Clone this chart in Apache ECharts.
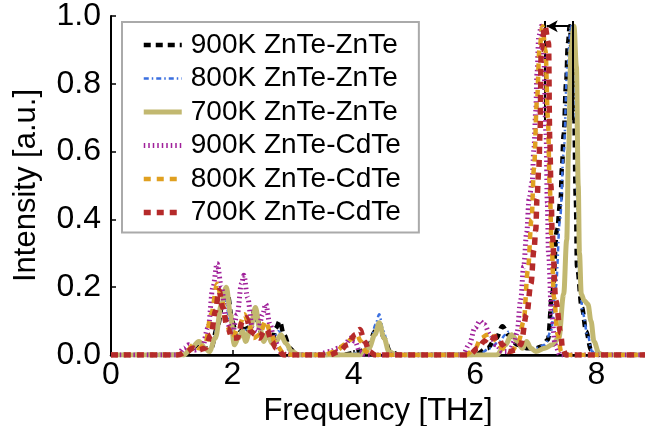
<!DOCTYPE html>
<html><head><meta charset="utf-8">
<script src="https://cdn.jsdelivr.net/npm/echarts@6/dist/echarts.min.js"></script>
<style>html,body{margin:0;padding:0;background:#fff}#c{width:645px;height:426px}</style>
</head><body><div id="c"></div>
<script>
const seriesNames = ['900K ZnTe-ZnTe','800K ZnTe-ZnTe','700K ZnTe-ZnTe','900K ZnTe-CdTe','800K ZnTe-CdTe','700K ZnTe-CdTe'];
const xTicks = [0,2,4,6,8];
const yTicks = [0,0.2,0.4,0.6,0.8,1.0];
const shiftLines = [7.15, 7.61];

const zz900 = [[0,0],[1.2,0],[1.35,0.02],[1.45,0.035],[1.55,0.02],[1.65,0.02],[1.75,0.08],[1.85,0.16],[1.92,0.18],[2.0,0.1],[2.07,0.05],[2.14,0.07],[2.2,0.09],[2.28,0.07],[2.36,0.13],[2.42,0.1],[2.5,0.05],[2.58,0.06],[2.65,0.04],[2.72,0.08],[2.78,0.1],[2.85,0.06],[2.95,0.02],[3.05,0],[3.8,0],[4.1,0.01],[4.25,0.03],[4.35,0.07],[4.42,0.09],[4.5,0.05],[4.6,0.01],[4.75,0],[6.0,0],[6.2,0.02],[6.35,0.05],[6.45,0.085],[6.55,0.06],[6.62,0.04],[6.7,0.03],[6.85,0.02],[7.0,0.02],[7.1,0.025],[7.2,0.045],[7.27,0.18],[7.35,0.37],[7.41,0.46],[7.43,0.55],[7.46,0.65],[7.5,0.8],[7.53,0.92],[7.56,0.97],[7.6,0.88],[7.63,0.75],[7.66,0.46],[7.68,0.26],[7.76,0.14],[7.83,0.07],[7.91,0.015],[8.0,0],[8.8,0]];
const zz800 = [[0,0],[1.2,0],[1.35,0.02],[1.45,0.04],[1.55,0.02],[1.65,0.02],[1.75,0.08],[1.83,0.15],[1.88,0.17],[1.96,0.1],[2.05,0.05],[2.14,0.07],[2.2,0.08],[2.28,0.06],[2.36,0.12],[2.42,0.09],[2.5,0.05],[2.58,0.06],[2.65,0.04],[2.72,0.06],[2.76,0.07],[2.85,0.04],[2.95,0.01],[3.05,0],[3.9,0],[4.15,0.01],[4.28,0.04],[4.36,0.09],[4.42,0.12],[4.49,0.07],[4.58,0.01],[4.7,0],[6.05,0],[6.25,0.02],[6.4,0.04],[6.5,0.06],[6.56,0.07],[6.63,0.05],[6.72,0.03],[6.85,0.02],[7.0,0.02],[7.15,0.03],[7.25,0.07],[7.33,0.2],[7.4,0.4],[7.46,0.6],[7.52,0.85],[7.58,0.97],[7.62,0.9],[7.66,0.7],[7.69,0.4],[7.72,0.22],[7.78,0.12],[7.85,0.06],[7.93,0.01],[8.0,0],[8.8,0]];
const zz700 = [[0,0],[1.2,0],[1.3,0.015],[1.45,0.04],[1.55,0.02],[1.62,0.01],[1.72,0.05],[1.82,0.15],[1.9,0.2],[1.97,0.12],[2.03,0.03],[2.1,0.05],[2.17,0.07],[2.22,0.04],[2.3,0.08],[2.38,0.14],[2.45,0.08],[2.52,0.04],[2.58,0.065],[2.65,0.035],[2.72,0.04],[2.8,0.06],[2.88,0.035],[2.98,0.01],[3.1,0],[4.1,0],[4.25,0.02],[4.35,0.06],[4.42,0.095],[4.5,0.05],[4.58,0.01],[4.7,0],[6.35,0],[6.5,0.03],[6.6,0.06],[6.7,0.04],[6.78,0.02],[6.85,0.04],[6.92,0.02],[7.0,0.01],[7.15,0.02],[7.27,0.03],[7.38,0.05],[7.46,0.18],[7.51,0.34],[7.54,0.6],[7.58,0.9],[7.63,0.97],[7.67,0.85],[7.7,0.5],[7.72,0.3],[7.75,0.18],[7.8,0.16],[7.86,0.15],[7.91,0.1],[7.96,0.04],[8.04,0.005],[8.1,0],[8.8,0]];
const zc900 = [[0,0],[1.1,0],[1.2,0.02],[1.28,0.03],[1.38,0.015],[1.5,0.02],[1.6,0.08],[1.68,0.2],[1.75,0.27],[1.82,0.2],[1.9,0.1],[2.0,0.065],[2.08,0.12],[2.15,0.21],[2.19,0.235],[2.25,0.17],[2.33,0.08],[2.42,0.07],[2.5,0.12],[2.55,0.15],[2.62,0.09],[2.7,0.04],[2.8,0.01],[2.9,0],[3.4,0],[3.6,0.01],[3.75,0.02],[3.85,0.03],[3.95,0.05],[4.02,0.04],[4.1,0.01],[4.2,0],[5.8,0],[5.9,0.03],[6.0,0.08],[6.08,0.1],[6.15,0.09],[6.25,0.06],[6.35,0.03],[6.45,0.01],[6.56,0.01],[6.65,0.04],[6.69,0.065],[6.75,0.16],[6.8,0.26],[6.85,0.36],[6.89,0.46],[6.94,0.51],[6.97,0.61],[7.0,0.72],[7.02,0.83],[7.05,0.94],[7.09,0.97],[7.13,0.88],[7.17,0.65],[7.19,0.45],[7.21,0.3],[7.26,0.12],[7.32,0.03],[7.4,0],[8.8,0]];
const zc800 = [[0,0],[1.1,0],[1.25,0.01],[1.35,0.03],[1.45,0.02],[1.55,0.03],[1.65,0.12],[1.75,0.21],[1.82,0.17],[1.9,0.09],[2.0,0.05],[2.1,0.08],[2.2,0.12],[2.27,0.09],[2.35,0.05],[2.45,0.06],[2.55,0.1],[2.62,0.07],[2.72,0.03],[2.85,0.005],[3.0,0],[3.5,0],[3.7,0.01],[3.85,0.03],[3.95,0.045],[4.05,0.06],[4.12,0.04],[4.2,0.01],[4.3,0],[5.85,0],[6.0,0.02],[6.1,0.05],[6.2,0.06],[6.28,0.065],[6.35,0.04],[6.45,0.02],[6.6,0.01],[6.72,0.04],[6.8,0.1],[6.87,0.25],[6.93,0.4],[6.97,0.55],[7.02,0.75],[7.06,0.9],[7.11,0.97],[7.16,0.9],[7.2,0.7],[7.23,0.5],[7.26,0.33],[7.3,0.17],[7.36,0.06],[7.42,0.01],[7.5,0],[8.8,0]];
const zc700 = [[0,0],[1.1,0],[1.25,0.01],[1.35,0.02],[1.45,0.015],[1.55,0.02],[1.65,0.06],[1.72,0.13],[1.78,0.19],[1.84,0.14],[1.92,0.08],[2.0,0.05],[2.08,0.05],[2.17,0.1],[2.23,0.11],[2.3,0.07],[2.38,0.06],[2.45,0.05],[2.52,0.07],[2.57,0.075],[2.65,0.04],[2.72,0.02],[2.85,0],[3.6,0],[3.75,0.01],[3.9,0.03],[4.02,0.06],[4.1,0.075],[4.18,0.04],[4.26,0.01],[4.35,0],[5.9,0],[6.05,0.02],[6.15,0.04],[6.23,0.055],[6.3,0.05],[6.38,0.055],[6.45,0.03],[6.55,0.01],[6.68,0.015],[6.75,0.03],[6.85,0.12],[6.92,0.21],[6.97,0.31],[7.0,0.37],[7.02,0.46],[7.05,0.55],[7.07,0.65],[7.09,0.9],[7.15,0.97],[7.21,0.92],[7.23,0.64],[7.25,0.5],[7.27,0.36],[7.33,0.16],[7.41,0.065],[7.44,0.02],[7.5,0],[8.8,0]];

const seriesData = [zz900, zz800, zz700, zc900, zc800, zc700];
const colors = ['#000000','#3a6fe0','#c2b870','#a0209a','#e0a020','#b52a2a'];
const widths = [4.5, 2.5, 5, 5, 4.5, 5.5];
const dashes = [[7,5],[5,3,1.5,3],'solid',[1.5,3],[7,6],[7,6]];

const FONT = '"Liberation Sans", Arial, sans-serif';
const chart = echarts.init(document.getElementById('c'), null, {renderer:'canvas'});

const series = seriesNames.map((n,i)=>({
  name:n, type:'line', data:seriesData[i], showSymbol:false, symbol:'none',
  smooth:0.35, smoothMonotone:'x',
  lineStyle:{color:colors[i], width:widths[i], type:dashes[i], cap:'butt'},
  itemStyle:{color:colors[i]}, z:2+i, animation:false
}));
series[5].markLine = {
  silent:true, animation:false, symbol:['none','none'], label:{show:false},
  lineStyle:{color:'#000', width:2, type:'solid'},
  data:[
    [{coord:[shiftLines[0],0.693]},{coord:[shiftLines[0],0.985]}],
    [{coord:[shiftLines[1],0.693]},{coord:[shiftLines[1],0.985]}],
    [{coord:[shiftLines[1]-0.05,0.97],symbol:'none'},{coord:[shiftLines[0]+0.03,0.97],symbol:'arrow',symbolSize:[9,11]}]
  ]
};

chart.setOption({
  animation:false,
  backgroundColor:'#fff',
  textStyle:{fontFamily:FONT},
  grid:{left:111, right:0, top:16, bottom:71, outerBoundsMode:'none', containLabel:false},
  legend:{
    data:seriesNames, orient:'vertical', left:122, top:22,
    padding:[9,18,6,19], itemGap:5.5, itemWidth:38, itemHeight:14,
    backgroundColor:'#fff', borderColor:'#aaaaaa', borderWidth:2,
    itemStyle:{color:'rgba(0,0,0,0)', borderColor:'rgba(0,0,0,0)', borderWidth:0, opacity:0},
    lineStyle:{width:'inherit', type:'inherit', color:'inherit'},
    textStyle:{fontSize:28, color:'#000', fontFamily:FONT, lineHeight:28, padding:[0,0,0,4]}
  },
  xAxis:[{
    type:'value', min:0, max:8.8, interval:2,
    name:'Frequency [THz]', nameLocation:'middle', nameGap:32,
    nameTextStyle:{fontSize:31, color:'#000', fontFamily:FONT},
    axisLine:{show:true, onZero:false, lineStyle:{color:'#000', width:2}},
    axisTick:{show:true, inside:true, length:5, lineStyle:{color:'#000', width:1.5}},
    axisLabel:{fontSize:32, color:'#000', margin:4, showMaxLabel:false, fontFamily:FONT,
      formatter:v=> xTicks.includes(v) ? String(v) : ''},
    splitLine:{show:false}
  },{
    type:'value', position:'top', min:0, max:8.8,
    axisLine:{show:true, lineStyle:{color:'#000', width:2.5}},
    axisTick:{show:false}, axisLabel:{show:false}, splitLine:{show:false}
  }],
  yAxis:{
    type:'value', min:0, max:1, interval:0.2,
    name:'Intensity [a.u.]', nameLocation:'middle', nameGap:69,
    nameTextStyle:{fontSize:31, color:'#000', fontFamily:FONT},
    axisLine:{show:true, lineStyle:{color:'#000', width:2}},
    axisTick:{show:true, inside:true, length:5, lineStyle:{color:'#000', width:1.5}},
    axisLabel:{fontSize:32, color:'#000', margin:10, fontFamily:FONT,
      formatter:v=> yTicks.some(t=>Math.abs(t-v)<1e-9) ? v.toFixed(1) : ''},
    splitLine:{show:false}
  },
  series:series
});
</script></body></html>
